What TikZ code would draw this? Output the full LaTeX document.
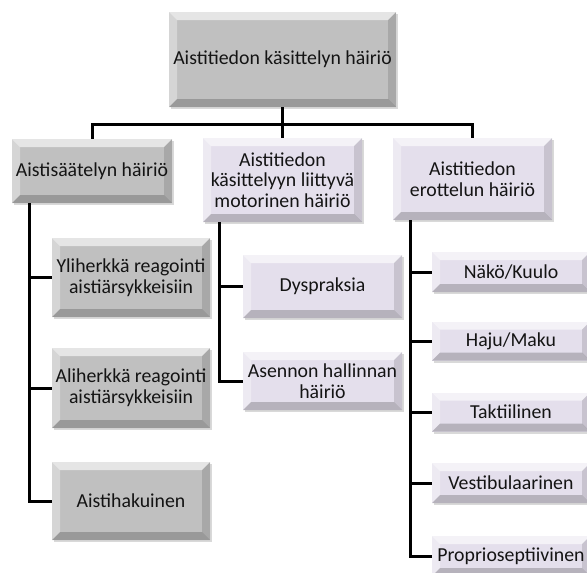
\documentclass[tikz,border=0pt]{standalone}
\usepackage{fontspec}
\setmainfont{Carlito}
\usetikzlibrary{shadows,calc}
\definecolor{boxgray}{RGB}{192,192,192}
\definecolor{boxlav}{RGB}{228,223,236}
\definecolor{txt}{RGB}{20,20,20}
\tikzset{
  bev/.style={
    rectangle, inner sep=2pt, align=center, text=txt,
    font=\fontsize{19.8}{20.8}\selectfont,
    drop shadow={opacity=.3, shadow xshift=2pt, shadow yshift=-2pt},
    path picture={
      \path (path picture bounding box.south west) coordinate (@sw)
            (path picture bounding box.north east) coordinate (@ne);
      \fill[white,opacity=.6] (@sw |- @ne) -- (@ne) -- ($(@ne)+(-8pt,-8pt)$) -- ($(@sw |- @ne)+(8pt,-8pt)$) -- cycle;
      \fill[white,opacity=.35] (@sw) -- (@sw |- @ne) -- ($(@sw |- @ne)+(8pt,-8pt)$) -- ($(@sw)+(8pt,8pt)$) -- cycle;
      \fill[black,opacity=.2] (@sw) -- (@sw -| @ne) -- ($(@sw -| @ne)+(-8pt,8pt)$) -- ($(@sw)+(8pt,8pt)$) -- cycle;
      \fill[black,opacity=.12] (@sw -| @ne) -- (@ne) -- ($(@ne)+(-8pt,-8pt)$) -- ($(@sw -| @ne)+(-8pt,8pt)$) -- cycle;
    }},
  graybox/.style={bev, fill=boxgray},
  lavbox/.style={bev, fill=boxlav},
  conn/.style={draw=black, line width=3pt}
}
\begin{document}
\begin{tikzpicture}[x=1pt,y=-1pt]
\useasboundingbox (0,0) rectangle (587,573);
\clip (0,0) rectangle (587,573);
% top
\node[graybox, minimum width=227pt, minimum height=95pt] (top) at (282.5,59.5) {Aistitiedon käsittelyn häiriö};
% level 1
\node[graybox, minimum width=160pt, minimum height=64pt] (L1) at (92,171) {Aistisäätelyn häiriö};
\node[lavbox, minimum width=159pt, minimum height=84pt] (M1) at (282.5,180) {Aistitiedon\\käsittelyyn liittyvä\\motorinen häiriö};
\node[lavbox, minimum width=159pt, minimum height=82pt] (R1) at (472.5,179) {Aistitiedon\\erottelun häiriö};
% left children
\node[graybox, minimum width=158pt, minimum height=79pt] (LA) at (131,277.5) {Yliherkkä reagointi\\aistiärsykkeisiin};
\node[graybox, minimum width=158pt, minimum height=80pt] (LB) at (131,388) {Aliherkkä reagointi\\aistiärsykkeisiin};
\node[graybox, minimum width=158pt, minimum height=78pt] (LC) at (131,501) {Aistihakuinen};
% middle children
\node[lavbox, minimum width=159pt, minimum height=63pt] (MA) at (322.5,286.5) {Dyspraksia};
\node[lavbox, minimum width=159pt, minimum height=58pt] (MB) at (322.5,381) {Asennon hallinnan\\häiriö};
% right children
\node[lavbox, minimum width=158pt, minimum height=40pt] (RA) at (511,272) {Näkö/Kuulo};
\node[lavbox, minimum width=158pt, minimum height=39pt] (RB) at (511,341) {Haju/Maku};
\node[lavbox, minimum width=158pt, minimum height=39pt] (RC) at (511,412) {Taktiilinen};
\node[lavbox, minimum width=158pt, minimum height=40pt] (RD) at (511,483) {Vestibulaarinen};
\node[lavbox, minimum width=158pt, minimum height=40pt] (RE) at (511,556) {Proprioseptiivinen};
% connectors
\draw[conn] (top.south) -- ++(0,17) coordinate (bus);
\draw[conn] (L1.north) |- (bus) -| (R1.north);
\draw[conn] (bus) -- (M1.north);
\draw[conn] ([xshift=18pt]L1.south west) |- (LA.west);
\draw[conn] ([xshift=18pt]L1.south west) |- (LB.west);
\draw[conn] ([xshift=18pt]L1.south west) |- (LC.west);
\draw[conn] ([xshift=17pt]M1.south west) |- (MA.west);
\draw[conn] ([xshift=17pt]M1.south west) |- (MB.west);
\draw[conn] ([xshift=18pt]R1.south west) |- (RA.west);
\draw[conn] ([xshift=18pt]R1.south west) |- (RB.west);
\draw[conn] ([xshift=18pt]R1.south west) |- (RC.west);
\draw[conn] ([xshift=18pt]R1.south west) |- (RD.west);
\draw[conn] ([xshift=18pt]R1.south west) |- (RE.west);
\end{tikzpicture}
\end{document}
